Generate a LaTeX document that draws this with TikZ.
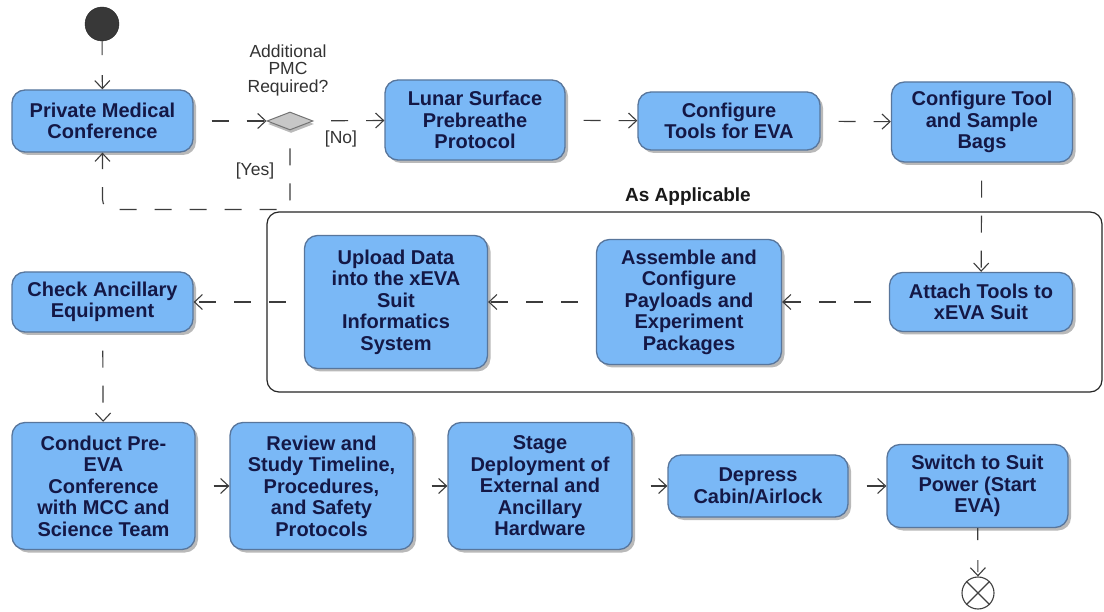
\documentclass[tikz,border=0pt]{standalone}
\usepackage{fontspec}
\setmainfont{Liberation Sans}
\usetikzlibrary{arrows.meta,shapes.geometric,shadows}
\definecolor{boxfill}{RGB}{122,184,246}
\definecolor{boxdraw}{RGB}{88,118,156}
\definecolor{textcol}{RGB}{20,24,70}
\definecolor{linecol}{RGB}{60,60,60}
\begin{document}
\begin{tikzpicture}[x=1pt,y=-1pt,
  act/.style={rectangle, rounded corners=13pt, draw=boxdraw, line width=1.3pt,
    fill=boxfill, text=textcol, font=\bfseries\fontsize{20}{21.5}\selectfont,
    align=center, inner sep=0pt,
    drop shadow={shadow xshift=3pt, shadow yshift=-3pt, fill=black!50, opacity=0.55}},
  flow/.style={draw=linecol, line width=1.1pt, dash pattern=on 17pt off 18pt,
    dash phase=17pt, -{Straight Barb[length=8pt,width=15pt]}},
  lbl/.style={text=black!80, font=\fontsize{17.5}{17.5}\selectfont, align=center, inner sep=0pt}
]
\useasboundingbox (0,0) rectangle (1104,612);
\fill[white] (0,0) rectangle (1104,612);

% group container
\node[draw=black!85, line width=1.2pt, rounded corners=12pt, minimum width=835pt,
  minimum height=180pt, inner sep=0pt] (grp) at (684.5,302) {};
\node[font=\bfseries\fontsize{19}{20}\selectfont, text=black!90, inner sep=0pt] (asapp) at (688,197) {As Applicable};

% start / end
\node[circle, fill=black!78, draw=black!85, minimum size=34pt, inner sep=0pt] (start) at (102,24) {};
\node[circle, draw=black!75, line width=1.1pt, fill=white, minimum size=32pt, inner sep=0pt] (final) at (978,593) {};
\draw[black!75, line width=1.1pt] (final.north east) -- (final.south west)
  (final.north west) -- (final.south east);

% top row
\node[act, minimum width=181pt, minimum height=62pt] (pmc) at (102.5,121) {Private Medical\\Conference};
\node[diamond, draw=black!55, fill=black!22, line width=1pt, minimum width=46pt, minimum height=18pt,
  inner sep=0pt, drop shadow={shadow xshift=1pt, shadow yshift=-3pt, fill=black!45, opacity=0.6}] (dia) at (290,121) {};
\node[lbl] (q) at (288,70) {Additional\\PMC\\Required?};
\node[lbl] (no) at (341,139) {[No]};
\node[lbl] (yes) at (255,171) {[Yes]};
\node[act, minimum width=180pt, minimum height=80pt] (lunar) at (475,120) {Lunar Surface\\Prebreathe\\Protocol};
\node[act, minimum width=182pt, minimum height=58pt] (cfgtools) at (729,121) {Configure\\Tools for EVA};
\node[act, minimum width=181pt, minimum height=80pt] (cfgbags) at (982,122) {Configure Tool\\and Sample\\Bags};

% middle row
\node[act, minimum width=183pt, minimum height=59pt] (attach) at (981,302) {Attach Tools to\\xEVA Suit};
\node[act, minimum width=185pt, minimum height=125pt] (assemble) at (689,302) {Assemble and\\Configure\\Payloads and\\Experiment\\Packages};
\node[act, minimum width=183pt, minimum height=133pt] (upload) at (396,302) {Upload Data\\into the xEVA\\Suit\\Informatics\\System};
\node[act, minimum width=181pt, minimum height=60pt] (check) at (102.5,302) {Check Ancillary\\Equipment};

% bottom row
\node[act, minimum width=183pt, minimum height=127pt] (conduct) at (103.5,486) {Conduct Pre-\\EVA\\Conference\\with MCC and\\Science Team};
\node[act, minimum width=183pt, minimum height=127pt] (review) at (321.5,486) {Review and\\Study Timeline,\\Procedures,\\and Safety\\Protocols};
\node[act, minimum width=184pt, minimum height=127pt] (stage) at (540,486) {Stage\\Deployment of\\External and\\Ancillary\\Hardware};
\node[act, minimum width=180pt, minimum height=62pt] (depress) at (758,486) {Depress\\Cabin/Airlock};
\node[act, minimum width=181pt, minimum height=83pt] (switch) at (977.5,486) {Switch to Suit\\Power (Start\\EVA)};

% connectors
\draw[flow, dash phase=0pt, dash pattern=on 14pt off 20pt] (start) -- (pmc);
\draw[flow] (pmc) -- (dia);
\draw[flow] (dia) -- (lunar);
\draw[flow, rounded corners=10pt] (dia.south) -- ++(0,79) -| (pmc.south);
\draw[flow] (lunar) -- (cfgtools);
\draw[flow] (cfgtools) -- (cfgbags);
\draw[flow] (cfgbags) -- (attach);
\draw[flow] (attach) -- (assemble);
\draw[flow] (assemble) -- (upload);
\draw[flow] (upload) -- (check);
\draw[flow] (check) -- (conduct);
\draw[flow] (conduct) -- (review);
\draw[flow] (review) -- (stage);
\draw[flow] (stage) -- (depress);
\draw[flow] (depress) -- (switch);
\draw[flow, dash phase=0pt, dash pattern=on 12pt off 20pt] (switch) -- (final);
\end{tikzpicture}
\end{document}
